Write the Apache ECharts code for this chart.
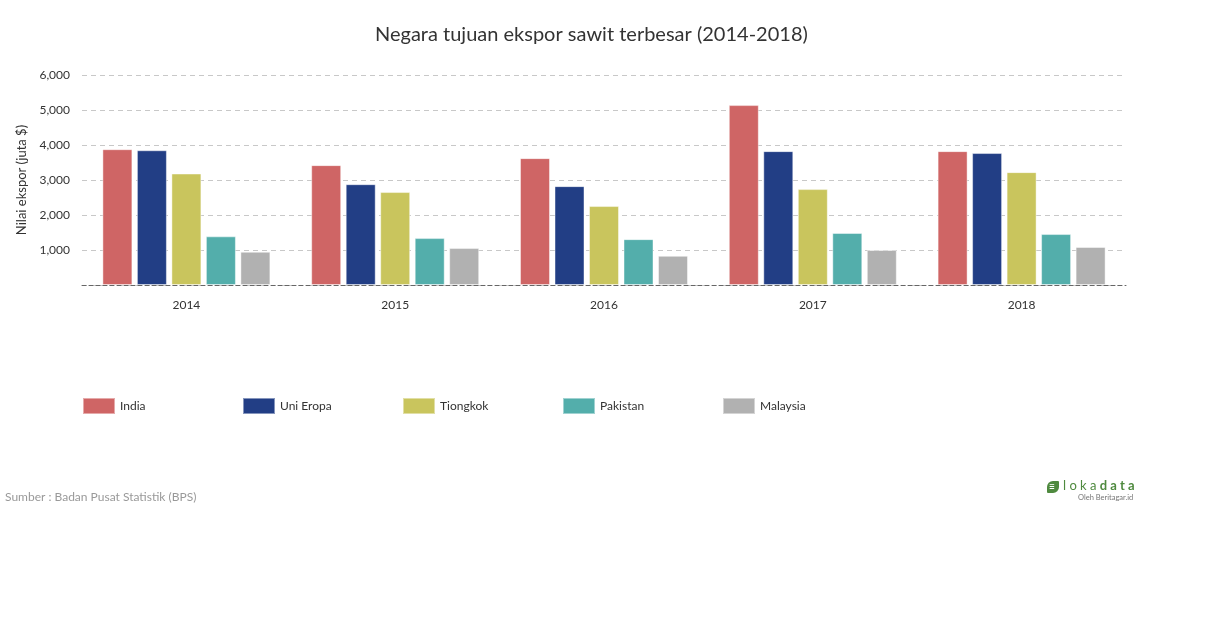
<!DOCTYPE html>
<html>
<head>
<meta charset="utf-8">
<script src="https://cdn.jsdelivr.net/npm/echarts@6/dist/echarts.min.js"></script>
<style>
html,body{margin:0;padding:0;background:#fff;}
#chart{width:1210px;height:628px;}
</style>
</head>
<body>
<div id="chart"></div>
<script>
const categories = ['2014', '2015', '2016', '2017', '2018'];
const seriesNames = ['India', 'Uni Eropa', 'Tiongkok', 'Pakistan', 'Malaysia'];
const india = [3880, 3425, 3625, 5140, 3825];
const uniEropa = [3850, 2880, 2825, 3825, 3770];
const tiongkok = [3185, 2655, 2255, 2740, 3225];
const pakistan = [1390, 1340, 1310, 1485, 1455];
const malaysia = [950, 1055, 835, 1000, 1085];
const seriesValues = [india, uniEropa, tiongkok, pakistan, malaysia];
const colors = ['#cf6565', '#223e85', '#c9c55d', '#53aeab', '#b1b1b1'];
const yTicks = [0, 1000, 2000, 3000, 4000, 5000, 6000];

const FONT = 'Lato, "Open Sans", sans-serif';
const chart = echarts.init(document.getElementById('chart'), null, {renderer: 'canvas'});

const legends = seriesNames.map((n, i) => ({
  data: [n],
  left: 82 + i * 160,
  top: 397,
  padding: 0,
  itemWidth: 32,
  itemHeight: 16,
  itemGap: 0,
  icon: 'rect',
  selectedMode: false,
  textStyle: {color: '#333', fontSize: 12, fontFamily: FONT}
}));

chart.setOption({
  animation: false,
  color: colors,
  title: {
    text: 'Negara tujuan ekspor sawit terbesar (2014-2018)',
    left: 370,
    top: 20,
    textStyle: {fontFamily: FONT, fontSize: 20, fontWeight: 'normal', color: '#333'}
  },
  legend: legends,
  grid: {left: 82, right: 84, top: 75, bottom: 343, containLabel: false},
  xAxis: {
    type: 'category',
    data: categories,
    axisTick: {show: false},
    axisLine: {show: true, lineStyle: {color: '#666', type: [4, 3], width: 1}},
    axisLabel: {color: '#333', fontSize: 12, fontFamily: FONT, margin: 14}
  },
  yAxis: {
    type: 'value',
    min: yTicks[0],
    max: yTicks[yTicks.length - 1],
    interval: 1000,
    name: 'Nilai ekspor (juta $)',
    nameLocation: 'middle',
    nameGap: 52,
    nameRotate: 90,
    nameTextStyle: {color: '#333', fontSize: 13, fontFamily: FONT},
    axisLine: {show: false},
    axisTick: {show: false},
    axisLabel: {
      color: '#333', fontSize: 12, fontFamily: FONT, margin: 12,
      formatter: v => v === 0 ? '' : v.toLocaleString('en-US')
    },
    splitLine: {show: true, lineStyle: {color: '#c8c8c8', type: [5, 4], width: 1}}
  },
  series: seriesNames.map((n, i) => ({
    name: n,
    type: 'bar',
    data: seriesValues[i],
    barWidth: 30,
    barGap: '15%',
    itemStyle: {color: colors[i], borderColor: 'rgba(255,255,255,0.45)', borderWidth: 1}
  })),
  graphic: [
    {
      type: 'text', left: 5, top: 491,
      style: {text: 'Sumber : Badan Pusat Statistik (BPS)', fill: '#999', font: '12px ' + FONT}
    },
    {
      type: 'rect', left: 1047, top: 481, shape: {width: 12, height: 12, r: [6, 1, 6, 1]},
      style: {fill: '#4f8a3f'}
    },
    {
      type: 'text', left: 1049, top: 482,
      style: {text: '≡', fill: '#fff', font: 'bold 10px ' + FONT}
    },
    {
      type: 'text', left: 1063, top: 479,
      style: {
        text: '{a|l o k a }{b|d a t a}',
        rich: {
          a: {fill: '#4f8a3f', font: '13px ' + FONT},
          b: {fill: '#4f8a3f', font: 'bold 13px ' + FONT}
        }
      }
    },
    {
      type: 'text', left: 1078, top: 494,
      style: {text: 'Oleh Beritagar.id', fill: '#777', font: '7.5px ' + FONT}
    }
  ]
});
</script>
</body>
</html>
